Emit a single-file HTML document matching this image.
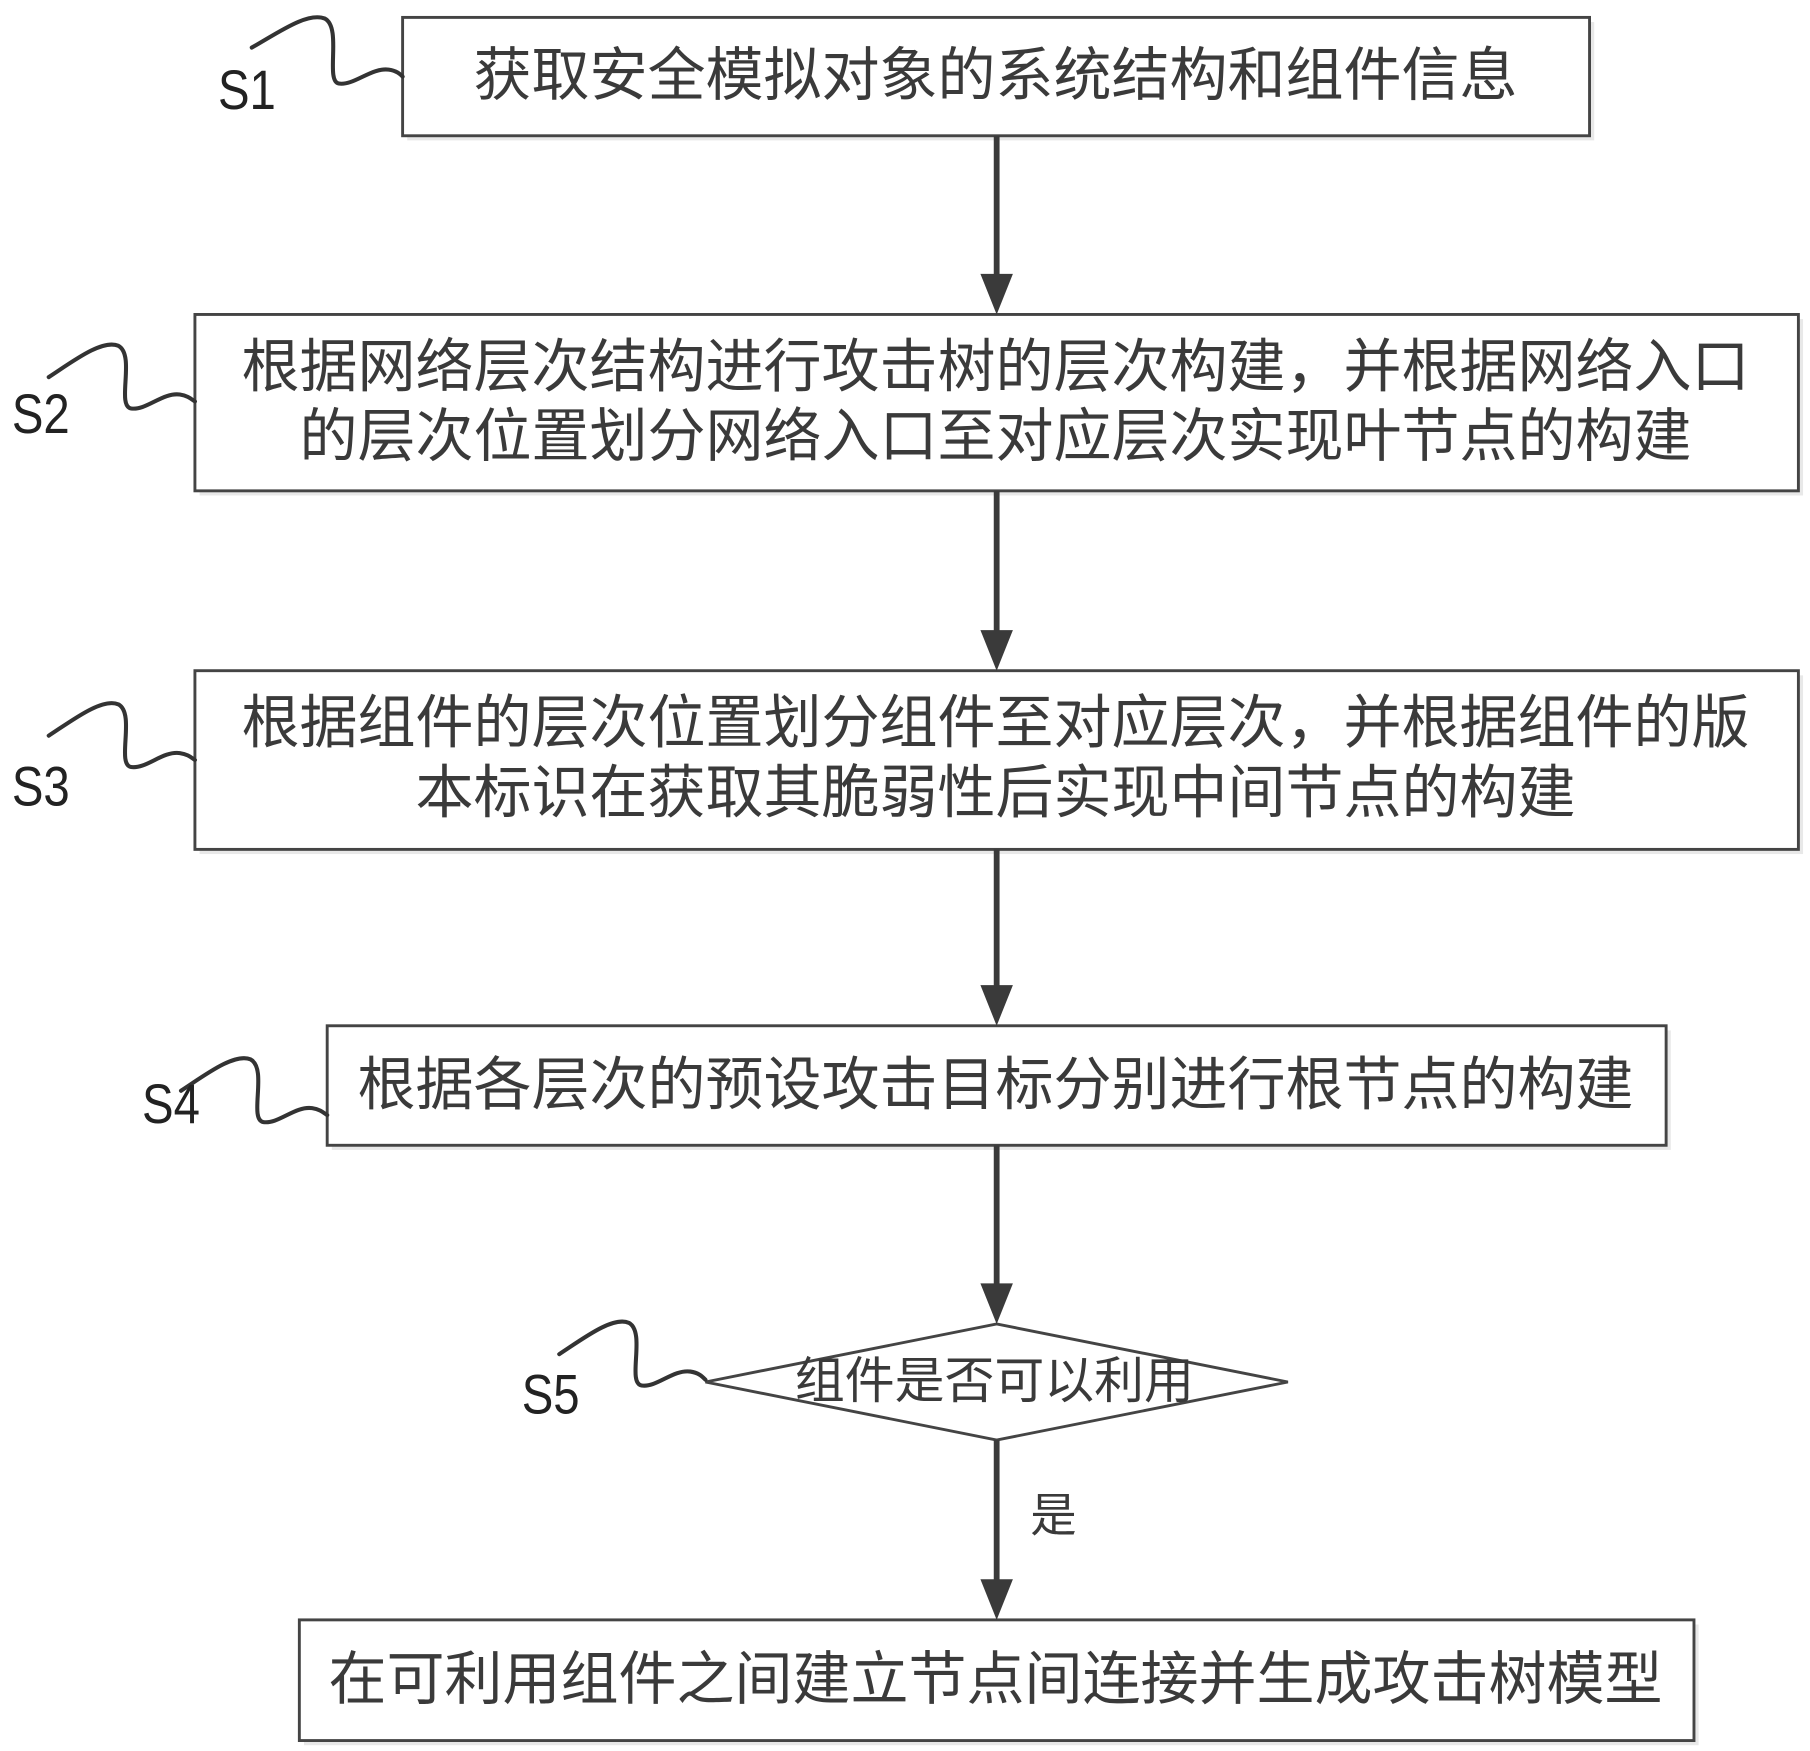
<!DOCTYPE html>
<html><head><meta charset="utf-8"><style>
html,body{margin:0;padding:0;background:#fff;}
svg{display:block;}
</style></head><body>
<svg width="1810" height="1751" viewBox="0 0 1560 1509" preserveAspectRatio="none" xmlns="http://www.w3.org/2000/svg">
<g fill="#e8e8e8">
<rect x="351" y="19" width="1023" height="102"/>
<rect x="172" y="275" width="1382" height="152"/>
<rect x="172" y="582" width="1382" height="154"/>
<rect x="286" y="888" width="1154" height="103"/>
<rect x="262" y="1400" width="1202" height="104"/>
</g>
<g fill="#fff" stroke="#444" stroke-width="2.5">
<rect x="347" y="15" width="1023" height="102"/>
<rect x="168" y="271" width="1382" height="152"/>
<rect x="168" y="578" width="1382" height="154"/>
<rect x="282" y="884" width="1154" height="103"/>
<polygon points="608,1191 859,1141 1110,1191 859,1241"/>
<rect x="258" y="1396" width="1202" height="104"/>
</g>
<g stroke="#3a3a3a" stroke-width="5" fill="none">
<line x1="859" y1="117" x2="859" y2="240"/>
<line x1="859" y1="423" x2="859" y2="548"/>
<line x1="859" y1="732" x2="859" y2="854"/>
<line x1="859" y1="987" x2="859" y2="1111"/>
<line x1="859" y1="1241" x2="859" y2="1366"/>
</g>
<g fill="#3a3a3a">
<polygon points="845,236 873,236 859,271"/>
<polygon points="845,543 873,543 859,578"/>
<polygon points="845,849 873,849 859,884"/>
<polygon points="845,1106 873,1106 859,1141"/>
<polygon points="845,1361 873,1361 859,1396"/>
</g>
<g stroke="#333" stroke-width="3.5" fill="none" stroke-linecap="round">
<path d="M217,41 C240,28 265,10 280,16 C295,24 280,70 292,72 C305,74 320,58 335,60 C342,61 345,64 347,66"/>
<path d="M42,325 C62,312 88,292 102,298 C117,306 100,350 113,352 C126,354 140,338 155,340 C162,341 165,344 168,346"/>
<path d="M42,634 C62,621 88,601 102,607 C117,615 100,659 113,661 C126,663 140,647 155,649 C162,650 165,653 168,655"/>
<path d="M156,940 C176,927 202,907 216,913 C231,921 214,965 227,967 C240,969 254,953 269,955 C276,956 279,959 282,961"/>
<path d="M482,1167 C502,1154 528,1134 542,1140 C557,1148 540,1192 553,1194 C566,1196 580,1180 595,1182 C602,1183 605,1186 608,1189"/>
</g>
<g font-family="'Liberation Sans','Noto Sans CJK SC',sans-serif" fill="#3a3a3a" font-size="50" text-anchor="middle">
<text x="858" y="82">获取安全模拟对象的系统结构和组件信息</text>
<text x="858" y="333">根据网络层次结构进行攻击树的层次构建，并根据网络入口</text>
<text x="858" y="393">的层次位置划分网络入口至对应层次实现叶节点的构建</text>
<text x="858" y="640">根据组件的层次位置划分组件至对应层次，并根据组件的版</text>
<text x="858" y="700">本标识在获取其脆弱性后实现中间节点的构建</text>
<text x="858" y="952">根据各层次的预设攻击目标分别进行根节点的构建</text>
<text x="857" y="1205" font-size="43">组件是否可以利用</text>
<text x="908" y="1320" font-size="40">是</text>
<text x="858" y="1464">在可利用组件之间建立节点间连接并生成攻击树模型</text>
</g>
<g font-family="'Liberation Sans',sans-serif" fill="#222" font-size="48">
<text x="188" y="94" transform="scale(0.85,1) translate(33,0)">S1</text>
<text x="10" y="373" transform="scale(0.85,1) translate(2,0)">S2</text>
<text x="10" y="694" transform="scale(0.85,1) translate(2,0)">S3</text>
<text x="122" y="968" transform="scale(0.85,1) translate(22,0)">S4</text>
<text x="450" y="1218" transform="scale(0.85,1) translate(79,0)">S5</text>
</g>
</svg>
</body></html>
